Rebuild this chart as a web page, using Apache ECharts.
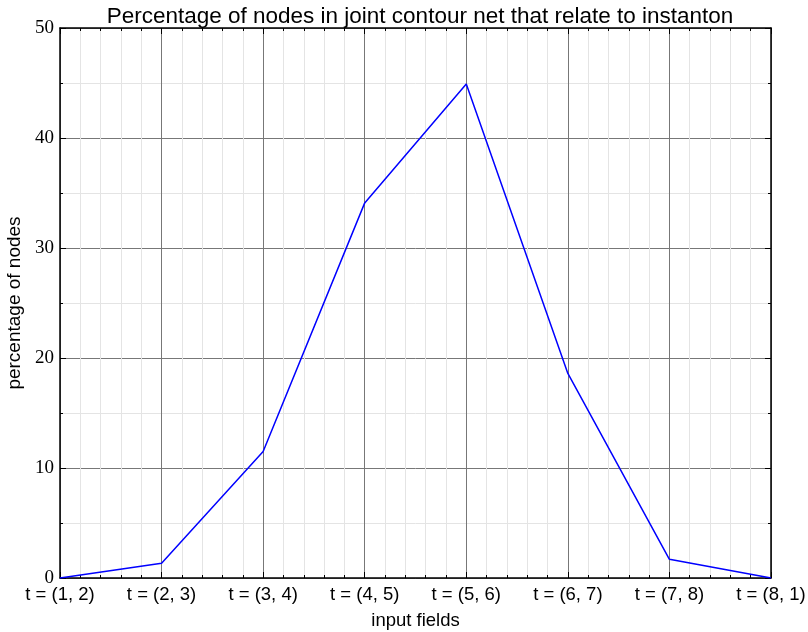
<!DOCTYPE html>
<html>
<head>
<meta charset="utf-8">
<script src="https://cdn.jsdelivr.net/npm/echarts@6/dist/echarts.min.js"></script>
<style>html,body{margin:0;padding:0;background:#fff;}#c{width:808px;height:632px;}</style>
</head>
<body>
<div id="c"></div>
<script>
const categories = ['t = (1, 2)', 't = (2, 3)', 't = (3, 4)', 't = (4, 5)', 't = (5, 6)', 't = (6, 7)', 't = (7, 8)', 't = (8, 1)'];
const percentages = [0, 1.35, 11.5, 34.1, 44.9, 18.6, 1.7, 0];
const yTicks = [0, 10, 20, 30, 40, 50];

const chart = echarts.init(document.getElementById('c'));
const seriesData = categories.map((c, i) => [i, percentages[i]]);

const xBase = {
  type: 'value', min: 0, max: categories.length - 1, interval: 1,
  axisLine: { show: true, onZero: false, lineStyle: { color: '#000', width: 1.5 } },
  axisTick: { show: true, inside: true, length: 6, lineStyle: { color: '#000' } },
  minorTick: { show: true, splitNumber: 5, length: 3, lineStyle: { color: '#000' } }
};
const yBase = {
  type: 'value', min: yTicks[0], max: yTicks[yTicks.length - 1], interval: 10,
  axisLine: { show: true, onZero: false, lineStyle: { color: '#000', width: 1.5 } },
  axisTick: { show: true, inside: true, length: 6, lineStyle: { color: '#000' } },
  minorTick: { show: true, splitNumber: 2, length: 3, lineStyle: { color: '#000' } }
};

chart.setOption({
  animation: false,
  backgroundColor: '#fff',
  title: {
    text: 'Percentage of nodes in joint contour net that relate to instanton',
    left: 415, top: 0, textAlign: 'center',
    textStyle: { fontFamily: 'Liberation Sans', fontSize: 22.5, fontWeight: 'normal', color: '#000' }
  },
  grid: { left: 60, right: 37, top: 28, bottom: 54, containLabel: false, outerBoundsMode: 'none' },
  xAxis: [
    Object.assign({}, xBase, {
      position: 'bottom',
      name: 'input fields', nameLocation: 'middle', nameGap: 33,
      nameTextStyle: { fontFamily: 'Liberation Sans', fontSize: 18.5, color: '#000' },
      axisLabel: {
        show: true, margin: 7, color: '#000', fontFamily: 'Liberation Sans', fontSize: 18.5,
        showMinLabel: true, showMaxLabel: true,
        formatter: v => categories[Math.round(v)] ?? ''
      },
      splitLine: { show: true, lineStyle: { color: '#777', width: 1 } },
      minorSplitLine: { show: true, lineStyle: { color: '#e4e4e4', width: 1 } }
    }),
    Object.assign({}, xBase, {
      position: 'top',
      axisLabel: { show: false },
      splitLine: { show: false }
    })
  ],
  yAxis: [
    Object.assign({}, yBase, {
      position: 'left',
      name: 'percentage of nodes', nameLocation: 'middle', nameGap: 29,
      nameTextStyle: { fontFamily: 'Liberation Sans', fontSize: 19, color: '#000' },
      axisLabel: {
        show: true, margin: 6, color: '#000', fontFamily: 'Liberation Serif', fontSize: 19
      },
      splitLine: { show: true, lineStyle: { color: '#777', width: 1 } },
      minorSplitLine: { show: true, lineStyle: { color: '#e4e4e4', width: 1 } }
    }),
    Object.assign({}, yBase, {
      position: 'right',
      axisLabel: { show: false },
      splitLine: { show: false }
    })
  ],
  series: [{
    type: 'line',
    data: seriesData,
    xAxisIndex: 0, yAxisIndex: 0,
    showSymbol: false,
    lineStyle: { color: '#0000ff', width: 1.5 },
    itemStyle: { color: '#0000ff' },
    z: 10
  }]
});
</script>
</body>
</html>
